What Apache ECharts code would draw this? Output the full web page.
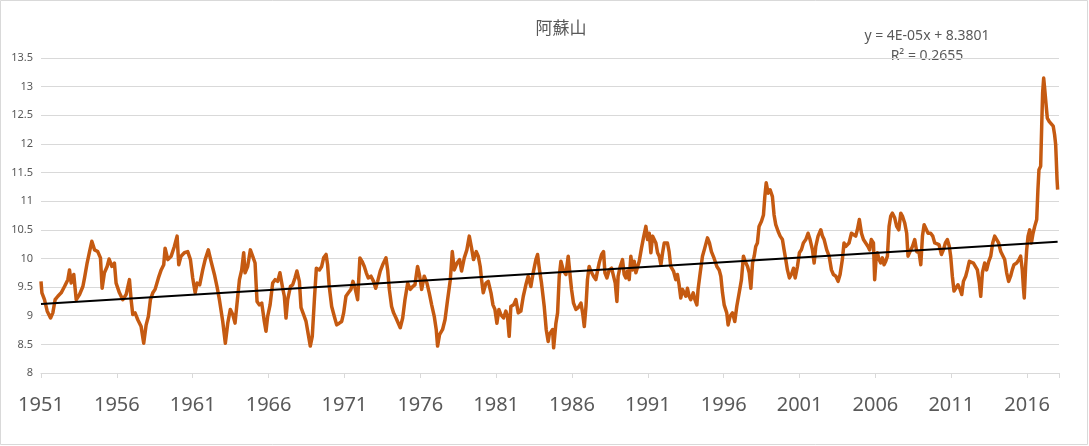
<!DOCTYPE html>
<html>
<head>
<meta charset="utf-8">
<script src="https://cdn.jsdelivr.net/npm/echarts@6/dist/echarts.min.js"></script>
<style>
  html, body { margin: 0; padding: 0; background: #fff; }
  #chart { width: 1089px; height: 446px; }
</style>
</head>
<body>
<div id="chart"></div>
<script>
// 年（小数）と値、図から読み取り
var years = [
  1951.00,1951.06,1951.23,1951.41,1951.63,1951.78,1951.93,1952.11,1952.33,1952.55,1952.77,1952.88,1952.99,1953.16,1953.32,1953.54,1953.76,1953.87,1954.04,1954.20,
  1954.35,1954.53,1954.74,1954.92,1955.03,1955.18,1955.36,1955.49,1955.67,1955.84,1955.95,1956.17,1956.39,1956.61,1956.83,1956.94,1957.05,1957.20,1957.38,1957.60,
  1957.77,1957.93,1958.08,1958.21,1958.37,1958.52,1958.74,1958.92,1959.09,1959.18,1959.36,1959.58,1959.79,1959.97,1960.08,1960.23,1960.45,1960.67,1960.85,1961.00,
  1961.16,1961.29,1961.46,1961.66,1961.82,1962.03,1962.21,1962.43,1962.60,1962.76,1962.98,1963.15,1963.31,1963.48,1963.64,1963.79,1963.92,1964.08,1964.23,1964.36,
  1964.45,1964.62,1964.80,1964.95,1965.11,1965.24,1965.39,1965.55,1965.72,1965.83,1965.94,1966.10,1966.27,1966.43,1966.60,1966.75,1966.93,1967.04,1967.15,1967.26,
  1967.44,1967.59,1967.74,1967.87,1968.03,1968.14,1968.31,1968.47,1968.62,1968.75,1968.88,1969.02,1969.15,1969.35,1969.50,1969.63,1969.79,1969.89,1970.00,1970.16,
  1970.33,1970.49,1970.66,1970.82,1970.95,1971.10,1971.26,1971.43,1971.56,1971.70,1971.87,1972.02,1972.16,1972.31,1972.44,1972.57,1972.75,1972.92,1973.06,1973.19,
  1973.36,1973.52,1973.63,1973.74,1973.85,1973.96,1974.11,1974.24,1974.40,1974.55,1974.68,1974.84,1974.99,1975.17,1975.34,1975.50,1975.65,1975.82,1975.96,1976.09,
  1976.26,1976.44,1976.59,1976.75,1976.92,1977.05,1977.14,1977.27,1977.47,1977.63,1977.80,1977.98,1978.11,1978.24,1978.42,1978.59,1978.72,1978.90,1979.07,1979.23,
  1979.38,1979.51,1979.69,1979.82,1979.95,1980.04,1980.15,1980.33,1980.48,1980.66,1980.79,1980.92,1981.05,1981.18,1981.31,1981.49,1981.64,1981.75,1981.86,1981.97,
  1982.15,1982.30,1982.46,1982.63,1982.79,1982.96,1983.11,1983.29,1983.44,1983.62,1983.73,1983.86,1983.99,1984.17,1984.30,1984.43,1984.50,1984.61,1984.72,1984.79,
  1984.94,1985.05,1985.16,1985.27,1985.44,1985.60,1985.75,1985.88,1985.97,1986.10,1986.26,1986.41,1986.59,1986.70,1986.81,1986.92,1987.02,1987.13,1987.24,1987.42,
  1987.57,1987.68,1987.79,1987.95,1988.08,1988.17,1988.30,1988.45,1988.61,1988.74,1988.85,1988.96,1989.04,1989.18,1989.33,1989.44,1989.55,1989.66,1989.77,1989.88,
  1989.99,1990.10,1990.21,1990.32,1990.43,1990.58,1990.71,1990.87,1990.98,1991.09,1991.20,1991.31,1991.42,1991.53,1991.64,1991.75,1991.86,1991.97,1992.08,1992.19,
  1992.29,1992.40,1992.51,1992.69,1992.84,1992.95,1993.06,1993.17,1993.28,1993.39,1993.50,1993.61,1993.72,1993.83,1993.99,1994.10,1994.23,1994.31,1994.45,1994.60,
  1994.75,1994.93,1995.06,1995.19,1995.37,1995.55,1995.70,1995.81,1995.92,1996.03,1996.20,1996.29,1996.42,1996.58,1996.73,1996.86,1997.02,1997.17,1997.30,1997.41,
  1997.57,1997.68,1997.79,1997.90,1998.01,1998.11,1998.22,1998.33,1998.49,1998.62,1998.71,1998.80,1998.93,1999.06,1999.21,1999.32,1999.43,1999.59,1999.72,1999.87,
  1999.98,2000.09,2000.20,2000.33,2000.46,2000.60,2000.71,2000.86,2000.99,2001.12,2001.25,2001.41,2001.56,2001.69,2001.85,2001.96,2002.07,2002.22,2002.40,2002.51,
  2002.62,2002.79,2002.95,2003.10,2003.23,2003.39,2003.54,2003.67,2003.82,2003.93,2004.04,2004.15,2004.26,2004.42,2004.55,2004.70,2004.81,2004.94,2005.08,2005.21,
  2005.36,2005.51,2005.62,2005.73,2005.87,2005.95,2006.04,2006.13,2006.24,2006.35,2006.46,2006.57,2006.68,2006.79,2006.90,2007.01,2007.12,2007.27,2007.40,2007.54,
  2007.67,2007.78,2007.93,2008.06,2008.15,2008.28,2008.44,2008.59,2008.72,2008.88,2008.99,2009.10,2009.21,2009.34,2009.47,2009.64,2009.78,2009.91,2010.04,2010.19,
  2010.35,2010.48,2010.61,2010.74,2010.87,2010.96,2011.07,2011.18,2011.31,2011.44,2011.58,2011.69,2011.80,2011.95,2012.06,2012.19,2012.32,2012.46,2012.59,2012.72,
  2012.85,2012.94,2013.05,2013.20,2013.33,2013.47,2013.60,2013.73,2013.86,2013.99,2014.12,2014.26,2014.39,2014.52,2014.65,2014.78,2014.91,2015.02,2015.13,2015.31,
  2015.46,2015.57,2015.68,2015.75,2015.81,2015.90,2015.97,2016.06,2016.17,2016.28,2016.39,2016.50,2016.63,2016.71,2016.78,2016.89,2016.96,2017.02,2017.09,2017.15,
  2017.24,2017.33,2017.46,2017.59,2017.72,2017.81,2017.88,2017.92,2017.97,2018.01
];
var values = [
  9.60,9.40,9.28,9.08,8.96,9.05,9.28,9.34,9.40,9.51,9.63,9.80,9.57,9.72,9.28,9.37,9.51,9.66,9.92,10.12,
  10.30,10.15,10.12,10.01,9.48,9.75,9.86,9.99,9.86,9.92,9.57,9.40,9.28,9.37,9.63,9.28,9.02,9.05,8.93,8.81,
  8.52,8.84,8.99,9.28,9.40,9.46,9.66,9.80,9.89,10.18,9.98,10.04,10.21,10.39,9.89,10.04,10.10,10.12,9.98,9.66,
  9.40,9.57,9.54,9.80,9.98,10.15,9.95,9.72,9.51,9.28,8.90,8.52,8.87,9.11,9.02,8.87,8.90,9.63,9.80,10.10,
  9.75,9.86,10.15,10.04,9.92,9.25,9.19,9.22,8.90,8.73,8.99,9.19,9.57,9.63,9.60,9.75,9.48,9.34,8.96,9.28,
  9.51,9.54,9.66,9.78,9.60,9.14,9.02,8.90,8.67,8.47,8.64,9.28,9.83,9.80,9.86,10.01,10.07,9.89,9.51,9.16,
  8.99,8.84,8.87,8.90,9.05,9.34,9.40,9.46,9.60,9.48,9.28,10.01,9.95,9.86,9.75,9.66,9.69,9.60,9.48,9.60,
  9.78,9.89,9.95,10.01,9.80,9.46,9.16,9.05,8.96,8.87,8.79,8.96,9.28,9.57,9.46,9.51,9.54,9.86,9.69,9.46,
  9.69,9.57,9.40,9.19,8.99,8.76,8.47,8.67,8.76,8.93,9.28,9.63,10.12,9.80,9.92,9.98,9.78,10.01,10.15,10.39,
  10.18,9.98,10.12,10.04,9.86,9.63,9.40,9.57,9.60,9.40,9.19,9.11,8.87,9.11,9.02,8.96,9.08,8.99,8.64,9.16,
  9.19,9.28,9.05,9.08,9.34,9.54,9.69,9.51,9.75,9.98,10.07,9.80,9.57,9.16,8.76,8.55,8.67,8.64,8.76,8.44,
  8.87,9.05,9.69,9.95,9.78,9.72,10.04,9.69,9.46,9.22,9.11,9.14,9.22,9.05,8.81,9.16,9.63,9.86,9.78,9.69,
  9.63,9.78,9.92,10.07,10.12,9.75,9.66,9.80,9.83,9.86,9.57,9.25,9.69,9.86,9.98,9.72,9.66,9.78,9.63,10.04,
  9.80,9.95,9.75,9.78,9.95,10.18,10.36,10.56,10.33,10.44,10.10,10.39,10.39,10.27,10.10,10.04,9.89,10.10,10.27,10.24,
  10.27,10.12,9.86,9.78,9.63,9.72,9.54,9.31,9.46,9.48,9.34,9.48,9.34,9.28,9.40,9.28,9.19,9.46,9.75,10.04,
  10.18,10.36,10.27,10.12,10.00,9.86,9.80,9.69,9.40,9.19,9.05,8.84,8.99,9.05,8.90,9.16,9.40,9.63,10.04,9.95,
  9.86,9.75,9.48,9.92,10.04,10.21,10.27,10.56,10.65,10.76,11.08,11.32,11.14,11.20,11.08,10.76,10.59,10.47,10.39,10.33,
  10.15,9.98,9.80,9.66,9.72,9.83,9.66,9.86,10.10,10.15,10.27,10.33,10.44,10.33,10.15,9.92,10.21,10.39,10.50,10.39,
  10.33,10.15,10.04,9.80,9.72,9.69,9.60,9.72,9.98,10.27,10.21,10.24,10.27,10.44,10.47,10.39,10.50,10.68,10.44,10.33,
  10.27,10.21,10.15,10.33,10.27,9.63,9.98,10.10,9.98,9.92,10.01,9.89,9.95,10.04,10.56,10.74,10.79,10.71,10.56,10.50,
  10.79,10.74,10.62,10.44,10.04,10.12,10.21,10.33,10.12,10.10,9.89,10.39,10.59,10.62,10.44,10.44,10.39,10.27,10.30,10.24,
  10.07,10.15,10.27,10.33,10.21,10.04,9.69,9.43,9.46,9.54,9.46,9.37,9.60,9.69,9.80,9.95,9.98,9.92,9.95,9.80,
  9.57,9.34,9.75,9.92,9.80,9.95,10.04,10.27,10.39,10.39,10.27,10.12,10.10,9.98,9.75,9.60,9.69,9.80,9.89,9.92,
  9.98,10.04,9.80,9.51,9.31,9.86,10.15,10.39,10.50,10.27,10.44,10.56,10.68,11.20,11.55,11.61,12.31,12.89,13.15,12.98,
  12.71,12.45,12.39,12.37,12.31,12.16,11.99,11.73,11.38,11.20
];
// 線形近似の両端
var trendYears = [1951.00, 2018.01];
var trendValues = [9.205, 10.29];
var baseYear = 1951;
var yTicks = { min: 8, max: 13.5, step: 0.5 };
var equationText = 'y = 4E-05x + 8.3801';
var r2Text = 'R² = 0.2655';

var chart = echarts.init(document.getElementById('chart'));
var grayText = '#595959';
var fontName = '"Noto Sans", "Open Sans", sans-serif';

var mainData = years.map(function (y, i) { return [y - baseYear, values[i]]; });
var trendData = trendYears.map(function (y, i) { return [y - baseYear, trendValues[i]]; });

var option = {
  animation: false,
  backgroundColor: '#fff',
  title: {
    text: '阿蘇山',
    left: 556,
    top: 14,
    textAlign: 'center',
    textStyle: {
      color: grayText,
      fontSize: 17,
      fontWeight: 'normal',
      fontFamily: '"Noto Sans CJK JP", sans-serif'
    }
  },
  grid: { left: 41, right: 30, top: 58, bottom: 73 },
  xAxis: {
    type: 'value',
    min: 0,
    max: 67.1,
    interval: 5,
    splitLine: { show: false },
    axisLine: { show: true, lineStyle: { color: '#d9d9d9', width: 1 } },
    axisTick: { show: true, length: 5, lineStyle: { color: '#d9d9d9' } },
    axisLabel: {
      color: grayText,
      fontSize: 20,
      fontFamily: fontName,
      margin: 22,
      formatter: function (v) {
        return Math.abs(v % 5) < 1e-6 ? String(v + baseYear) : '';
      }
    }
  },
  yAxis: {
    type: 'value',
    min: yTicks.min,
    max: yTicks.max,
    interval: yTicks.step,
    axisLine: { show: false },
    axisTick: { show: false },
    splitLine: { lineStyle: { color: '#d9d9d9', width: 1 } },
    axisLabel: {
      color: grayText,
      fontSize: 11,
      fontFamily: fontName,
      margin: 8
    }
  },
  graphic: [
    {
      type: 'rect',
      silent: true,
      shape: { x: 0.5, y: 0.5, width: 1087, height: 444 },
      style: { fill: 'none', stroke: '#d9d9d9', lineWidth: 1 }
    },
    {
      type: 'text',
      x: 927,
      y: 36,
      style: {
        text: equationText,
        fill: grayText,
        font: '14px ' + fontName,
        align: 'center',
        verticalAlign: 'middle'
      }
    },
    {
      type: 'text',
      x: 927,
      y: 56,
      style: {
        text: r2Text,
        fill: grayText,
        font: '14px ' + fontName,
        align: 'center',
        verticalAlign: 'middle'
      }
    }
  ],
  series: [
    {
      type: 'line',
      data: mainData,
      showSymbol: false,
      symbol: 'none',
      lineStyle: { color: '#C55A11', width: 3.5, join: 'round' },
      z: 2
    },
    {
      type: 'line',
      data: trendData,
      showSymbol: false,
      symbol: 'none',
      lineStyle: { color: '#000', width: 2 },
      z: 3
    }
  ]
};

chart.setOption(option);
window.addEventListener('resize', function () {
  chart.resize();
});
</script>
</body>
</html>
